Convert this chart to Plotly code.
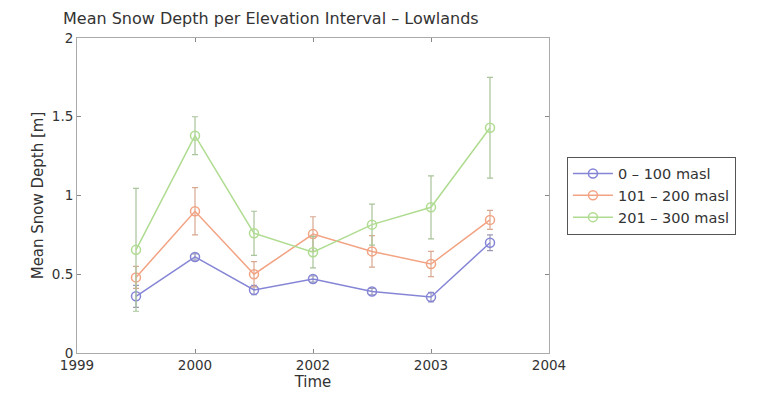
import plotly.graph_objects as go

x_pos = [0.5, 1.0, 1.5, 2.0, 2.5, 3.0, 3.5]
tick_vals = [0, 1, 2, 3, 4]
tick_text = ["1999", "2000", "2002", "2003", "2004"]

names = ["0 \u2013 100 masl", "101 \u2013 200 masl", "201 \u2013 300 masl"]
low = [0.36, 0.61, 0.40, 0.47, 0.39, 0.355, 0.70]
low_err = [0.07, 0.02, 0.03, 0.02, 0.02, 0.03, 0.05]
mid = [0.48, 0.90, 0.50, 0.755, 0.645, 0.565, 0.845]
mid_err = [0.07, 0.15, 0.08, 0.11, 0.10, 0.08, 0.06]
high = [0.655, 1.38, 0.76, 0.64, 0.815, 0.925, 1.43]
high_err = [0.39, 0.12, 0.14, 0.10, 0.13, 0.20, 0.32]

colors = ["#8585d6", "#f2a383", "#afdc90"]
err_colors = ["#9a9ab8", "#d8a890", "#a8c49a"]

fig = go.Figure()
for name, ys, es, c, ec in zip(names, [low, mid, high], [low_err, mid_err, high_err], colors, err_colors):
    fig.add_trace(go.Scatter(
        x=x_pos, y=ys, name=name, mode="lines+markers",
        line=dict(color=c, width=1.5),
        marker=dict(symbol="circle-open", size=9, color=c, line=dict(width=1.5)),
        error_y=dict(type="data", array=es, visible=True, color=ec, thickness=1.2, width=3),
    ))

font = "DejaVu Sans, sans-serif"
fig.update_layout(
    width=767, height=401,
    paper_bgcolor="white", plot_bgcolor="white",
    margin=dict(l=77, r=218, t=38, b=48),
    font=dict(family=font, size=13, color="#333333"),
    title=dict(text="Mean Snow Depth per Elevation Interval \u2013 Lowlands",
               x=63 / 767, xref="container", xanchor="left", y=0.955, yanchor="middle",
               font=dict(size=16, color="#333333")),
    xaxis=dict(range=[0, 4], tickvals=tick_vals, ticktext=tick_text,
               showgrid=False, zeroline=False, showline=True, linecolor="#aaaaaa",
               linewidth=1, mirror="ticks", ticks="inside", ticklen=4, tickcolor="#888888",
               tickfont=dict(size=13.5),
               title=dict(text="Time", standoff=4, font=dict(size=15))),
    yaxis=dict(range=[0, 2], tickvals=[0, 0.5, 1, 1.5, 2],
               ticktext=["0", "0.5", "1", "1.5", "2"],
               showgrid=False, zeroline=False, showline=True, linecolor="#aaaaaa",
               linewidth=1, mirror="ticks", ticks="inside", ticklen=4, tickcolor="#888888",
               tickfont=dict(size=13.5),
               title=dict(text="Mean Snow Depth [m]", standoff=4, font=dict(size=15))),
    legend=dict(x=1.038, y=0.50, xanchor="left", yanchor="middle",
                bordercolor="#555555", borderwidth=1, bgcolor="white",
                font=dict(size=14.5), tracegroupgap=0, itemwidth=40),
)
fig.write_html("out.html")
